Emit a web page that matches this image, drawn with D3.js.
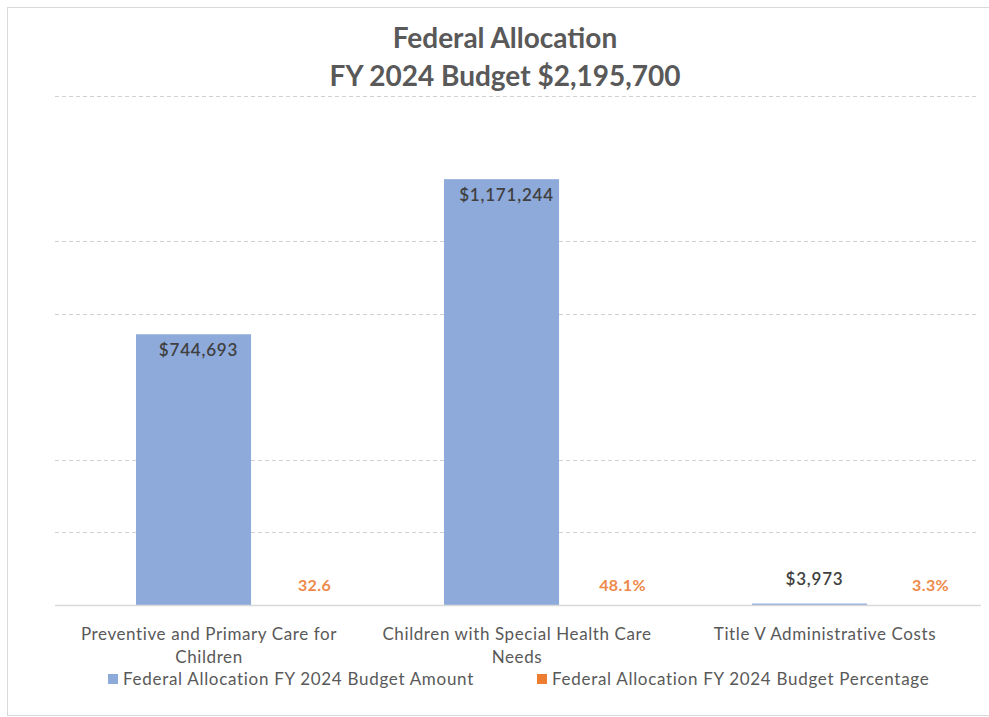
<!DOCTYPE html>
<html>
<head>
<meta charset="utf-8">
<script src="https://cdn.jsdelivr.net/npm/d3@7/dist/d3.min.js"></script>
<style>
  html, body { margin: 0; padding: 0; background: #fff; }
  svg { display: block; font-family: Lato, "Open Sans", sans-serif; }
</style>
</head>
<body>
<svg id="chart" width="989" height="717"></svg>
<script>
// Federal allocation, FY 2024
const titleLines = ["Federal Allocation", "FY 2024 Budget $2,195,700"];
const categories = [
  ["Preventive and Primary Care for", "Children"],
  ["Children with Special Health Care", "Needs"],
  ["Title V Administrative Costs"]
];
const seriesNames = [
  "Federal Allocation FY 2024 Budget Amount",
  "Federal Allocation FY 2024 Budget Percentage"
];
const amounts = [744693, 1171244, 3973];
const amountLabels = ["$744,693", "$1,171,244", "$3,973"];
const percentages = [32.6, 48.1, 3.3];
const percentLabels = ["32.6", "48.1%", "3.3%"];
const gridValues = [200000, 400000, 800000, 1000000, 1400000];
const yMax = 1400000;

const colors = { amount: "#8eaadb", percent: "#ed7d31", percentText: "#ee8a4a" };

const svg = d3.select("#chart");
const plot = { left: 55, right: 979, top: 96, bottom: 605 };

// outer frame
svg.append("rect")
  .attr("x", 7.5).attr("y", 7.5).attr("width", 995).attr("height", 708)
  .attr("fill", "none").attr("stroke", "#d9d9d9");

// title
svg.append("g").selectAll("text").data(titleLines).join("text")
  .attr("x", 505).attr("y", (d, i) => 48 + i * 38)
  .attr("text-anchor", "middle")
  .attr("font-size", 28).attr("font-weight", 700)
  .attr("fill", "#595959")
  .text(d => d);

const x = d3.scaleBand()
  .domain(d3.range(categories.length))
  .range([plot.left, plot.right]);
const bw = x.bandwidth();
// the two series sit side by side inside each category band
const xs = d3.scaleBand()
  .domain(["amount", "percent"])
  .range([bw * 0.263, bw * 1.01]);

const y = d3.scaleLinear().domain([0, yMax]).range([plot.bottom, plot.top]);

// gridlines
svg.append("g").selectAll("line").data(gridValues).join("line")
  .attr("x1", plot.left).attr("x2", plot.right)
  .attr("y1", d => Math.round(y(d)) + 0.5).attr("y2", d => Math.round(y(d)) + 0.5)
  .attr("stroke", "#d0d0d0").attr("stroke-dasharray", "4,3");

// amount bars
svg.append("g").selectAll("rect").data(amounts).join("rect")
  .attr("x", (d, i) => x(i) + xs("amount"))
  .attr("width", xs.bandwidth())
  .attr("y", d => y(d))
  .attr("height", d => y(0) - y(d))
  .attr("fill", colors.amount);

// percentage bars (plotted on the same value axis)
svg.append("g").selectAll("rect").data(percentages).join("rect")
  .attr("x", (d, i) => x(i) + xs("percent"))
  .attr("width", xs.bandwidth())
  .attr("y", d => y(d))
  .attr("height", d => y(0) - y(d))
  .attr("fill", colors.percent);

// baseline
svg.append("line")
  .attr("x1", plot.left).attr("x2", plot.right + 2)
  .attr("y1", plot.bottom + 0.5).attr("y2", plot.bottom + 0.5)
  .attr("stroke", "#d9d9d9").attr("stroke-width", 1.5);

// amount labels: inside the bar top, or above when the bar is too short
svg.append("g").selectAll("text").data(amounts).join("text")
  .attr("x", (d, i) => x(i) + xs("amount") + xs.bandwidth() / 2 + 5)
  .attr("y", d => (y(0) - y(d) > 40) ? y(d) + 22 : y(d) - 19)
  .attr("text-anchor", "middle")
  .attr("font-size", 17).attr("font-weight", 600)
  .attr("letter-spacing", 0.8)
  .attr("fill", "#404040")
  .text((d, i) => amountLabels[i]);

// percentage labels
svg.append("g").selectAll("text").data(percentages).join("text")
  .attr("x", (d, i) => x(i) + xs("percent") + xs.bandwidth() / 2 + 6)
  .attr("y", d => y(d) - 14)
  .attr("text-anchor", "middle")
  .attr("font-size", 16).attr("font-weight", 700)
  .attr("letter-spacing", 0.4)
  .attr("fill", colors.percentText)
  .text((d, i) => percentLabels[i]);

// category labels
const cat = svg.append("g").selectAll("text").data(categories).join("text")
  .attr("text-anchor", "middle")
  .attr("font-size", 17)
  .attr("letter-spacing", 0.6)
  .attr("fill", "#595959");
cat.selectAll("tspan").data((d, i) => d.map(line => ({ line, i }))).join("tspan")
  .attr("x", d => x(d.i) + bw / 2)
  .attr("y", (d, j) => 640 + j * 23)
  .text(d => d.line);

// legend
const legendX = [108, 537];
const lg = svg.append("g").selectAll("g").data(seriesNames).join("g")
  .attr("transform", (d, i) => `translate(${legendX[i]},674)`);
lg.append("rect")
  .attr("width", 10).attr("height", 10)
  .attr("fill", (d, i) => i === 0 ? colors.amount : colors.percent);
lg.append("text")
  .attr("x", 15).attr("y", 11)
  .attr("font-size", 17)
  .attr("letter-spacing", 0.7)
  .attr("fill", "#595959")
  .text(d => d);
</script>
</body>
</html>
